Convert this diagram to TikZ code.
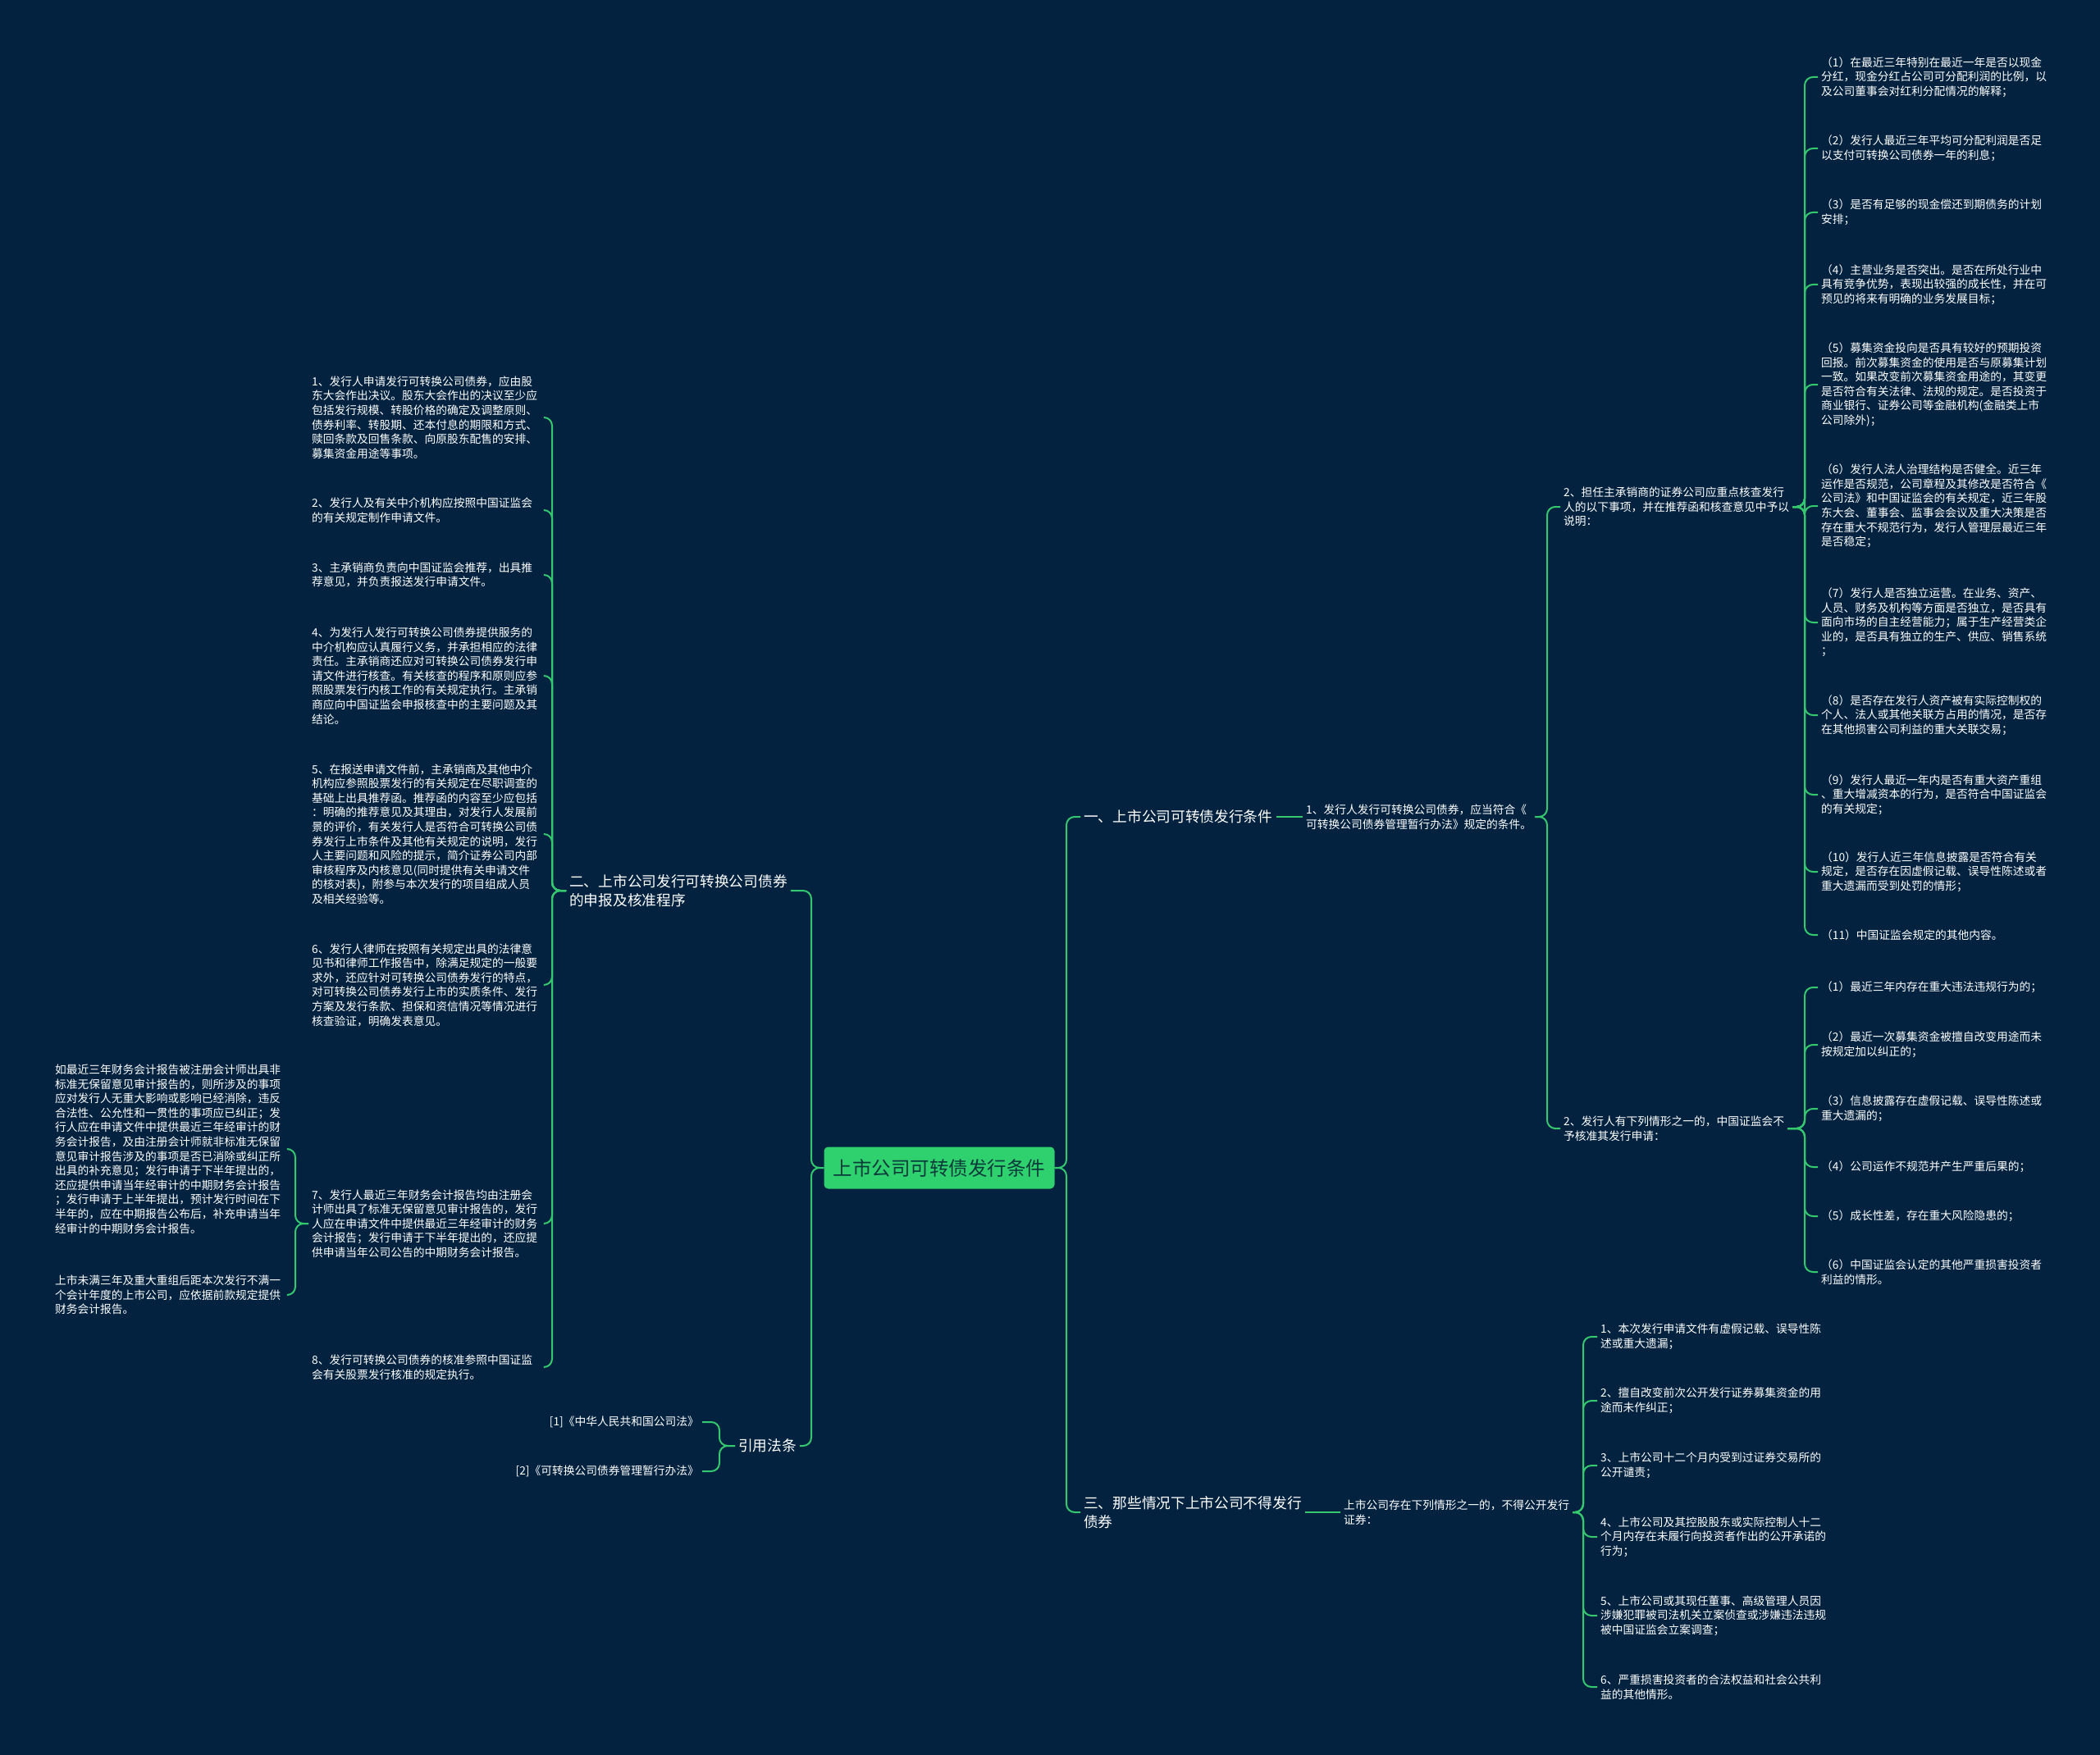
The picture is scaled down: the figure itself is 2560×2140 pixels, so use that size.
\documentclass[tikz,border=0pt]{standalone}
\usepackage{fontspec}
\setmainfont{Noto Sans CJK SC}
\definecolor{bgc}{HTML}{02223F}
\definecolor{lineg}{HTML}{35C96F}
\definecolor{rootg}{HTML}{2FD06E}
\definecolor{roott}{HTML}{0B3A3A}
\tikzset{
  small/.style={font=\fontsize{13.75}{17.6}\selectfont, text=white, align=left, inner sep=4pt},
  leftbox/.style={small, text width=280pt},
  topic/.style={font=\fontsize{17.7}{23.5}\selectfont, text=white, align=left, inner sep=4pt},
  rootbox/.style={fill=rootg, text=roott, rounded corners=5pt, font=\fontsize{23.5}{28}\selectfont, minimum width=281pt, minimum height=51pt, inner sep=0pt},
  conn/.style={draw=lineg, line width=2pt, rounded corners=10pt},
}
\begin{document}
\begin{tikzpicture}[x=1pt,y=-1pt]
\fill[bgc] (0,0) rectangle (2560,2140);
\useasboundingbox (0,0) rectangle (2560,2140);

% spine coordinates
\coordinate (spR0) at (1300,0);
\coordinate (spS1) at (1886,0);
\coordinate (spT1) at (2200,0);
\coordinate (spU1) at (1930,0);
\coordinate (spL0) at (989,0);
\coordinate (spN2) at (673,0);
\coordinate (spN4) at (877,0);
\coordinate (spC7) at (360,0);

% root
\node[rootbox] (root) at (1145,1424) {上市公司可转债发行条件};

% level 1
\node[topic, anchor=west] (n1) at (1317,996) {一、上市公司可转债发行条件};
\node[topic, anchor=west] (n3) at (1317,1844) {三、那些情况下上市公司不得发行\\债券};
\node[topic, anchor=west] (n2) at (690,1086) {二、上市公司发行可转换公司债券\\的申报及核准程序};
\node[topic, anchor=west] (n4) at (896,1763) {引用法条};

% right branch one
\node[small, anchor=west] (s1) at (1588,996) {1、发行人发行可转换公司债券，应当符合《\\可转换公司债券管理暂行办法》规定的条件。};
\node[small, anchor=west] (t1) at (1902,618) {2、担任主承销商的证券公司应重点核查发行\\人的以下事项，并在推荐函和核查意见中予以\\说明：};
\node[small, anchor=west] (t2) at (1902,1376) {2、发行人有下列情形之一的，中国证监会不\\予核准其发行申请：};

\node[small, anchor=west] (a1) at (2216,94) {（1）在最近三年特别在最近一年是否以现金\\分红，现金分红占公司可分配利润的比例，以\\及公司董事会对红利分配情况的解释；};
\node[small, anchor=west] (a2) at (2216,181) {（2）发行人最近三年平均可分配利润是否足\\以支付可转换公司债券一年的利息；};
\node[small, anchor=west] (a3) at (2216,259) {（3）是否有足够的现金偿还到期债务的计划\\安排；};
\node[small, anchor=west] (a4) at (2216,347) {（4）主营业务是否突出。是否在所处行业中\\具有竞争优势，表现出较强的成长性，并在可\\预见的将来有明确的业务发展目标；};
\node[small, anchor=west] (a5) at (2216,469) {（5）募集资金投向是否具有较好的预期投资\\回报。前次募集资金的使用是否与原募集计划\\一致。如果改变前次募集资金用途的，其变更\\是否符合有关法律、法规的规定。是否投资于\\商业银行、证券公司等金融机构(金融类上市\\公司除外)；};
\node[small, anchor=west] (a6) at (2216,617) {（6）发行人法人治理结构是否健全。近三年\\运作是否规范，公司章程及其修改是否符合《\\公司法》和中国证监会的有关规定，近三年股\\东大会、董事会、监事会会议及重大决策是否\\存在重大不规范行为，发行人管理层最近三年\\是否稳定；};
\node[small, anchor=west] (a7) at (2216,759) {（7）发行人是否独立运营。在业务、资产、\\人员、财务及机构等方面是否独立，是否具有\\面向市场的自主经营能力；属于生产经营类企\\业的，是否具有独立的生产、供应、销售系统\\；};
\node[small, anchor=west] (a8) at (2216,872) {（8）是否存在发行人资产被有实际控制权的\\个人、法人或其他关联方占用的情况，是否存\\在其他损害公司利益的重大关联交易；};
\node[small, anchor=west] (a9) at (2216,969) {（9）发行人最近一年内是否有重大资产重组\\、重大增减资本的行为，是否符合中国证监会\\的有关规定；};
\node[small, anchor=west] (a10) at (2216,1063) {（10）发行人近三年信息披露是否符合有关\\规定，是否存在因虚假记载、误导性陈述或者\\重大遗漏而受到处罚的情形；};
\node[small, anchor=west] (a11) at (2216,1140) {（11）中国证监会规定的其他内容。};

\node[small, anchor=west] (b1) at (2216,1204) {（1）最近三年内存在重大违法违规行为的；};
\node[small, anchor=west] (b2) at (2216,1274) {（2）最近一次募集资金被擅自改变用途而未\\按规定加以纠正的；};
\node[small, anchor=west] (b3) at (2216,1352) {（3）信息披露存在虚假记载、误导性陈述或\\重大遗漏的；};
\node[small, anchor=west] (b4) at (2216,1423) {（4）公司运作不规范并产生严重后果的；};
\node[small, anchor=west] (b5) at (2216,1483) {（5）成长性差，存在重大风险隐患的；};
\node[small, anchor=west] (b6) at (2216,1551) {（6）中国证监会认定的其他严重损害投资者\\利益的情形。};

% right branch three
\node[small, anchor=west] (u1) at (1634,1844) {上市公司存在下列情形之一的，不得公开发行\\证券：};
\node[small, anchor=west] (d1) at (1947,1630) {1、本次发行申请文件有虚假记载、误导性陈\\述或重大遗漏；};
\node[small, anchor=west] (d2) at (1947,1708) {2、擅自改变前次公开发行证券募集资金的用\\途而未作纠正；};
\node[small, anchor=west] (d3) at (1947,1787) {3、上市公司十二个月内受到过证券交易所的\\公开谴责；};
\node[small, anchor=west] (d4) at (1947,1874) {4、上市公司及其控股股东或实际控制人十二\\个月内存在未履行向投资者作出的公开承诺的\\行为；};
\node[small, anchor=west] (d5) at (1947,1970) {5、上市公司或其现任董事、高级管理人员因\\涉嫌犯罪被司法机关立案侦查或涉嫌违法违规\\被中国证监会立案调查；};
\node[small, anchor=west] (d6) at (1947,2057) {6、严重损害投资者的合法权益和社会公共利\\益的其他情形。};

% left branch two
\node[leftbox, anchor=west] (c1) at (376,509) {1、发行人申请发行可转换公司债券，应由股\\东大会作出决议。股东大会作出的决议至少应\\包括发行规模、转股价格的确定及调整原则、\\债券利率、转股期、还本付息的期限和方式、\\赎回条款及回售条款、向原股东配售的安排、\\募集资金用途等事项。};
\node[leftbox, anchor=west] (c2) at (376,622) {2、发行人及有关中介机构应按照中国证监会\\的有关规定制作申请文件。};
\node[leftbox, anchor=west] (c3) at (376,701) {3、主承销商负责向中国证监会推荐，出具推\\荐意见，并负责报送发行申请文件。};
\node[leftbox, anchor=west] (c4) at (376,824) {4、为发行人发行可转换公司债券提供服务的\\中介机构应认真履行义务，并承担相应的法律\\责任。主承销商还应对可转换公司债券发行申\\请文件进行核查。有关核查的程序和原则应参\\照股票发行内核工作的有关规定执行。主承销\\商应向中国证监会申报核查中的主要问题及其\\结论。};
\node[leftbox, anchor=west] (c5) at (376,1017) {5、在报送申请文件前，主承销商及其他中介\\机构应参照股票发行的有关规定在尽职调查的\\基础上出具推荐函。推荐函的内容至少应包括\\：明确的推荐意见及其理由，对发行人发展前\\景的评价，有关发行人是否符合可转换公司债\\券发行上市条件及其他有关规定的说明，发行\\人主要问题和风险的提示，简介证券公司内部\\审核程序及内核意见(同时提供有关申请文件\\的核对表)，附参与本次发行的项目组成人员\\及相关经验等。};
\node[leftbox, anchor=west] (c6) at (376,1201) {6、发行人律师在按照有关规定出具的法律意\\见书和律师工作报告中，除满足规定的一般要\\求外，还应针对可转换公司债券发行的特点，\\对可转换公司债券发行上市的实质条件、发行\\方案及发行条款、担保和资信情况等情况进行\\核查验证，明确发表意见。};
\node[leftbox, anchor=west] (c7) at (376,1492) {7、发行人最近三年财务会计报告均由注册会\\计师出具了标准无保留意见审计报告的，发行\\人应在申请文件中提供最近三年经审计的财务\\会计报告；发行申请于下半年提出的，还应提\\供申请当年公司公告的中期财务会计报告。};
\node[leftbox, anchor=west] (c8) at (376,1667) {8、发行可转换公司债券的核准参照中国证监\\会有关股票发行核准的规定执行。};

\node[leftbox, anchor=west] (f1) at (63,1401) {如最近三年财务会计报告被注册会计师出具非\\标准无保留意见审计报告的，则所涉及的事项\\应对发行人无重大影响或影响已经消除，违反\\合法性、公允性和一贯性的事项应已纠正；发\\行人应在申请文件中提供最近三年经审计的财\\务会计报告，及由注册会计师就非标准无保留\\意见审计报告涉及的事项是否已消除或纠正所\\出具的补充意见；发行申请于下半年提出的，\\还应提供申请当年经审计的中期财务会计报告\\；发行申请于上半年提出，预计发行时间在下\\半年的，应在中期报告公布后，补充申请当年\\经审计的中期财务会计报告。};
\node[leftbox, anchor=west] (f2) at (63,1579) {上市未满三年及重大重组后距本次发行不满一\\个会计年度的上市公司，应依据前款规定提供\\财务会计报告。};

\node[small, anchor=east] (r1) at (856,1734) {[1]《中华人民共和国公司法》};
\node[small, anchor=east] (r2) at (856,1794) {[2]《可转换公司债券管理暂行办法》};

% connectors
\draw[conn] (root.east) -- (root.east -| spR0) |- (n1.west);
\draw[conn] (root.east) -- (root.east -| spR0) |- (n3.west);
\draw[conn] (n1.east) -- (s1.west);
\draw[conn] (s1.east) -- (s1.east -| spS1) |- (t1.west);
\draw[conn] (s1.east) -- (s1.east -| spS1) |- (t2.west);
\foreach \i in {1,...,11} {\draw[conn] (t1.east) -- (t1.east -| spT1) |- (a\i.west);}
\foreach \i in {1,...,6} {\draw[conn] (t2.east) -- (t2.east -| spT1) |- (b\i.west);}
\draw[conn] (n3.east) -- (u1.west);
\foreach \i in {1,...,6} {\draw[conn] (u1.east) -- (u1.east -| spU1) |- (d\i.west);}
\draw[conn] (root.west) -- (root.west -| spL0) |- (n2.east);
\draw[conn] (root.west) -- (root.west -| spL0) |- (n4.east);
\foreach \i in {1,...,8} {\draw[conn] (n2.west) -- (n2.west -| spN2) |- (c\i.east);}
\foreach \i in {1,2} {\draw[conn] (n4.west) -- (n4.west -| spN4) |- (r\i.east);}
\foreach \i in {1,2} {\draw[conn] (c7.west) -- (c7.west -| spC7) |- (f\i.east);}
\end{tikzpicture}
\end{document}
